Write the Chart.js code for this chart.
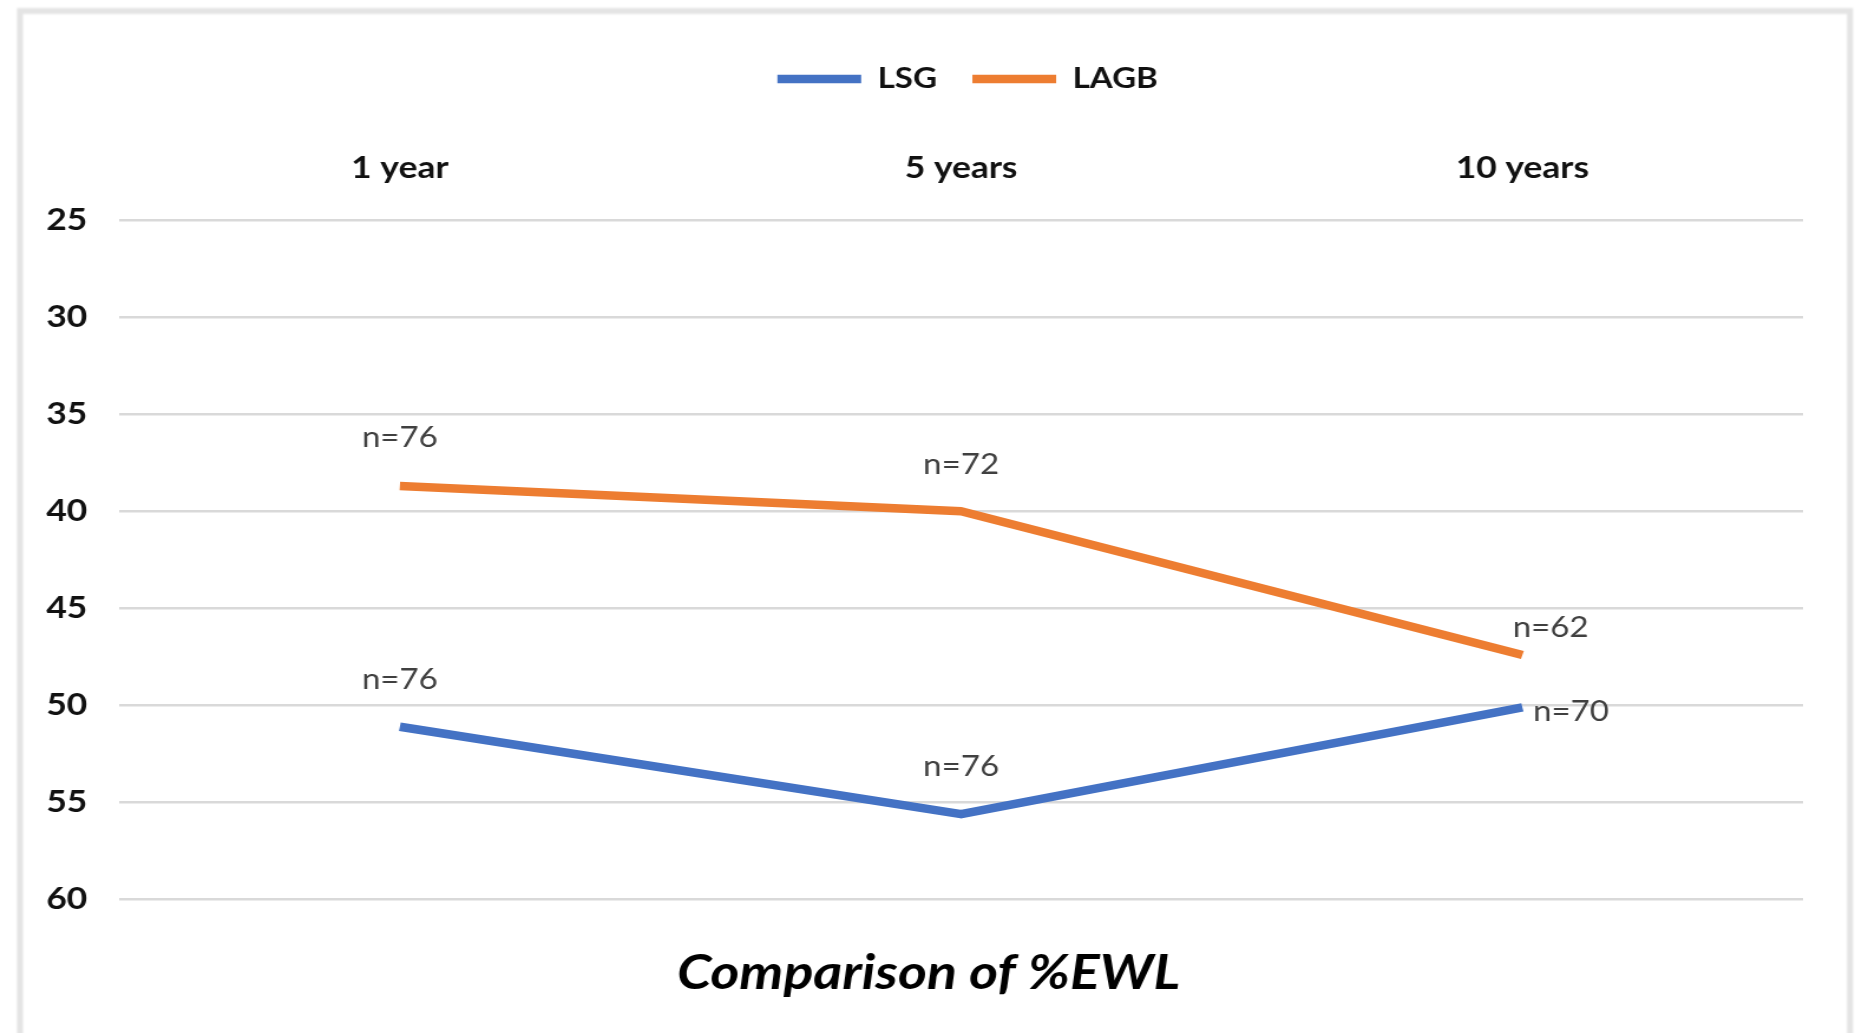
<!DOCTYPE html>
<html>
<head>
<meta charset="utf-8">
<title>Comparison of %EWL</title>
<script src="https://cdn.jsdelivr.net/npm/chart.js@4.4.1/dist/chart.umd.min.js"></script>
<style>
  html, body { margin: 0; padding: 0; background: #ffffff; }
  body { width: 1856px; height: 1033px; position: relative; overflow: hidden; }
  #frame {
    position: absolute; left: 17px; top: 8px; width: 1836px; height: 1100px;
    box-sizing: border-box; border: 6px solid #e4e4e4; filter: blur(1px);
  }
  /* the chart is laid out narrower and widened, giving the broad lettering */
  #wrap {
    position: absolute; left: 0; top: 0; width: 1573px; height: 1033px;
    transform: scaleX(1.18); transform-origin: 0 0;
  }
</style>
</head>
<body>
<div id="frame"></div>
<div id="wrap"><canvas id="chart" width="1573" height="1033"></canvas></div>
<script>
// Follow-up periods
const periods = ['1 year', '5 years', '10 years'];

// %EWL per group
const lsgValues = [51.1, 55.6, 50.1];
const lagbValues = [38.7, 40.0, 47.4];

// Patients followed at each period
const lsgCounts = ['n=76', 'n=76', 'n=70'];
const lagbCounts = ['n=76', 'n=72', 'n=62'];

// Value-axis range
const yMin = 25;
const yMax = 60;
const yStep = 5;

const FONT = 'Lato, "Open Sans", sans-serif';

// Where each count label sits relative to its point
const labelPlacement = {
  LSG:  [{dx: 0, dy: -47, align: 'center'}, {dx: 0, dy: -47, align: 'center'}, {dx: 9, dy: 5, align: 'left'}],
  LAGB: [{dx: 0, dy: -48, align: 'center'}, {dx: 0, dy: -46, align: 'center'}, {dx: 24, dy: -27, align: 'center'}]
};

// Draws the "n=" labels next to each point
const countLabels = {
  id: 'countLabels',
  afterDatasetsDraw(chart) {
    const ctx = chart.ctx;
    ctx.save();
    ctx.font = '28px ' + FONT;
    ctx.fillStyle = '#404040';
    ctx.textBaseline = 'middle';
    chart.data.datasets.forEach((ds, i) => {
      const meta = chart.getDatasetMeta(i);
      const place = labelPlacement[ds.label];
      meta.data.forEach((pt, j) => {
        const p = place[j];
        ctx.textAlign = p.align;
        ctx.fillText(ds.counts[j], pt.x + p.dx, pt.y + p.dy);
      });
    });
    ctx.restore();
  }
};

// Centre the legend entries and the title on chosen x positions
const boxCentre = {
  id: 'boxCentre',
  afterLayout(chart, args, opts) {
    const lg = chart.legend;
    if (lg) {
      const pad = lg.options.labels.padding;
      const half = (lg.right - lg.left) / 2;
      lg.left = opts.legendX - half + pad / 2;
      lg.right = opts.legendX + half + pad / 2;
    }
    const tb = chart.titleBlock;
    if (tb) {
      const half = (tb.right - tb.left) / 2;
      tb.left = opts.titleX - half;
      tb.right = opts.titleX + half;
    }
  }
};

new Chart(document.getElementById('chart'), {
  type: 'line',
  data: {
    labels: periods,
    datasets: [
      {
        label: 'LSG',
        data: lsgValues,
        counts: lsgCounts,
        borderColor: '#4472C4',
        backgroundColor: '#4472C4',
        borderWidth: 8.5,
        pointRadius: 0,
        borderJoinStyle: 'round',
        tension: 0
      },
      {
        label: 'LAGB',
        data: lagbValues,
        counts: lagbCounts,
        borderColor: '#ED7D31',
        backgroundColor: '#ED7D31',
        borderWidth: 8.5,
        pointRadius: 0,
        borderJoinStyle: 'round',
        tension: 0
      }
    ]
  },
  options: {
    responsive: false,
    animation: false,
    layout: { padding: { top: 35, right: 45, left: 0, bottom: 0 } },
    scales: {
      x: {
        position: 'top',
        offset: true,
        grid: { display: false, drawTicks: false },
        border: { display: false },
        ticks: { padding: 34, color: '#111111', font: { family: FONT, size: 30, weight: 'bold' } },
        afterFit(scale) { scale.height = 117; }
      },
      y: {
        reverse: true,
        min: yMin,
        max: yMax,
        grid: { color: '#d9d9d9', lineWidth: 2.5, drawTicks: false },
        border: { display: false },
        ticks: { stepSize: yStep, padding: 27, color: '#111111', font: { family: FONT, size: 30, weight: 'bold' } },
        afterFit(scale) { scale.width = 101; }
      }
    },
    plugins: {
      boxCentre: { legendX: 805, titleX: 787 },
      legend: {
        position: 'top',
        labels: {
          usePointStyle: true,
          pointStyle: 'line',
          pointStyleWidth: 71,
          padding: 30,
          color: '#111111',
          font: { family: FONT, size: 28, weight: 'bold' }
        }
      },
      title: {
        display: true,
        position: 'bottom',
        text: 'Comparison of %EWL',
        color: '#000000',
        padding: { top: 46, bottom: 31 },
        font: { family: FONT, size: 47, weight: 'bold', style: 'italic' }
      },
      tooltip: { enabled: false }
    }
  },
  plugins: [countLabels, boxCentre]
});
</script>
</body>
</html>
